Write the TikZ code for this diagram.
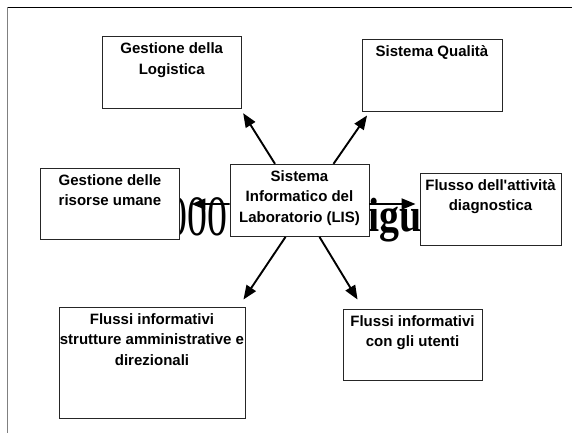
\documentclass[tikz,border=0pt]{standalone}
\usepackage{fontspec}
\setmainfont{Liberation Sans}
\newfontfamily\nomap{Liberation Sans}[Ligatures=TeXOff]
\newfontfamily\bgserif{Liberation Serif}
\usetikzlibrary{arrows.meta}
\newcommand{\bxt}[3]{\parbox[c][#2][t]{#1}{\centering\rule{0pt}{17pt}#3}}
\tikzset{
  pbox/.style={draw=black!85, line width=0.9pt, fill=white, inner sep=0pt,
    font=\fontsize{15}{20.5}\selectfont\bfseries},
  arr/.style={line width=1.9pt, -{Triangle[length=14pt,width=11pt]}},
  bgtext/.style={inner sep=0pt, anchor=base west}
}
\begin{document}
\begin{tikzpicture}[x=1pt,y=-1pt]
\useasboundingbox (0,0) rectangle (572,433);
% frame
\draw[black, line width=1pt] (7.3,7.3) -- (572,7.3);
\draw[black!50, line width=1.6pt] (7.3,7.3) -- (7.3,433);
% background large text
\node[bgtext, font=\bgserif\fontsize{57}{60}\selectfont, xscale=0.7] (bga) at (167.7,235) {000};
\node[bgtext, font=\bgserif\bfseries\fontsize{48}{50}\selectfont, xscale=0.83] (bgb) at (368.5,231.7) {igu};
% boxes
\node[pbox] (log) at (171.75,72.5) {\bxt{139.5pt}{71.6pt}{Gestione della\\Logistica}};
\node[pbox] (qual) at (432,75.15) {\bxt{140pt}{71.7pt}{Sistema Qualit\`a}};
\node[pbox] (ris) at (110,203.65) {\bxt{139pt}{71.3pt}{Gestione delle\\risorse umane}};
\node[pbox] (lis) at (299.5,200.4) {\bxt{139pt}{72.2pt}{Sistema\\Informatico del\\Laboratorio (LIS)}};
\node[pbox] (flu) at (490.5,209) {\bxt{141pt}{72pt}{Flusso dell{\nomap\bfseries'}attivit\`a\\diagnostica}};
\node[pbox] (amm) at (152,362.8) {\bxt{186pt}{111pt}{Flussi informativi\\strutture amministrative e\\direzionali}};
\node[pbox] (ute) at (412.5,344.5) {\bxt{139pt}{71pt}{Flussi informativi\\con gli utenti}};
% arrows
\draw[arr] ([xshift=-24.5pt]lis.north) -- ([xshift=1.2pt,yshift=-4.4pt]log.south east);
\draw[arr] ([xshift=34pt]lis.north) -- ([xshift=5.5pt,yshift=-4pt]qual.south west);
\draw[arr] ([xshift=-14pt]lis.south) -- ([xshift=-2pt,yshift=7.3pt]amm.north east);
\draw[arr] ([xshift=20pt]lis.south) -- ([xshift=15pt,yshift=9pt]ute.north west);
\draw[arr] ([yshift=-3.6pt]lis.west) -- ([xshift=11.5pt,yshift=-0.4pt]ris.east);
\draw[arr] ([yshift=-3.6pt]lis.east) -- ([xshift=-4pt,yshift=5pt]flu.west);
\end{tikzpicture}
\end{document}
